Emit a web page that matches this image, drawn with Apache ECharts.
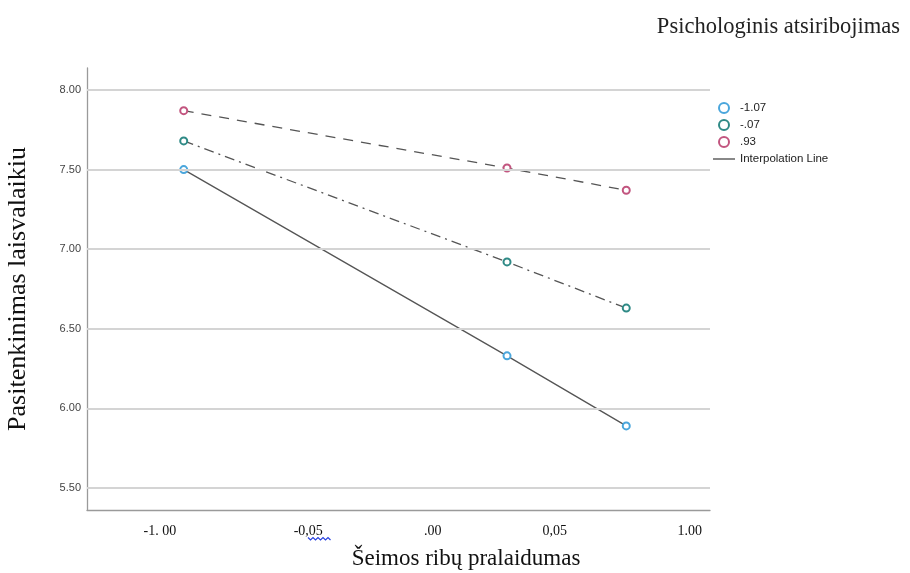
<!DOCTYPE html>
<html>
<head>
<meta charset="utf-8">
<title>Pasitenkinimas laisvalaikiu</title>
<script src="https://cdn.jsdelivr.net/npm/echarts@6/dist/echarts.min.js"></script>
<style>
  html, body { margin: 0; padding: 0; background: #fff; }
  #chart { width: 910px; height: 573px; }
</style>
</head>
<body>
<div id="chart"></div>
<script>
// Moderator levels (legend) and their line styles
const groupNames = ['-1.07', '-.07', '.93'];
const groupColors = ['#4aa6dc', '#2f8a86', '#c2557f'];
const groupLineTypes = ['solid', [10, 5, 2, 5], [10, 8]];

// Predictor positions along the horizontal axis
const xValues = [-0.91, 0.31, 0.76];

// Predicted outcome for each moderator level
const valuesLow = [7.50, 6.33, 5.89];
const valuesMid = [7.68, 6.92, 6.63];
const valuesHigh = [7.87, 7.51, 7.37];

// Axis ticks and their printed labels
const xTickValues = [-1.0, -0.44, 0.03, 0.49, 1.0];
const xTickLabels = ['-1. 00', '-0,05', '.00', '0,05', '1.00'];
const yTickValues = [5.5, 6.0, 6.5, 7.0, 7.5, 8.0];

const serif = "'Liberation Serif', 'Times New Roman', serif";
const sans = "'Liberation Sans', Arial, sans-serif";

const seriesValues = [valuesLow, valuesMid, valuesHigh];

const dataSeries = groupNames.map((name, i) => ({
  name: name,
  type: 'line',
  z: 3,
  data: xValues.map((x, j) => [x, seriesValues[i][j]]),
  symbol: 'emptyCircle',
  symbolSize: 7,
  itemStyle: { color: groupColors[i], borderWidth: 1.5 },
  lineStyle: { color: '#555', width: 1.3, type: groupLineTypes[i] },
  emphasis: { disabled: true }
}));

const chart = echarts.init(document.getElementById('chart'), null, { renderer: 'canvas' });

chart.setOption({
  animation: false,
  backgroundColor: '#ffffff',
  title: {
    text: 'Psichologinis atsiribojimas',
    right: 5,
    top: 11,
    textStyle: { fontFamily: serif, fontSize: 22.5, fontWeight: 'normal', color: '#222' }
  },
  legend: {
    orient: 'vertical',
    left: 708,
    top: 97,
    itemWidth: 22,
    itemHeight: 10,
    itemGap: 5,
    selectedMode: false,
    textStyle: { fontFamily: sans, fontSize: 11.5, color: '#222' },
    data: groupNames.map(n => ({ name: n, icon: 'emptyCircle' })).concat([
      { name: 'Interpolation Line', icon: 'path://M0,0H22V1.4H0Z', itemStyle: { color: '#555' } }
    ])
  },
  grid: { left: 87, right: 200, top: 68, bottom: 63, containLabel: false, outerBoundsMode: 'none' },
  xAxis: {
    type: 'value',
    min: -1.275,
    max: 1.076,
    name: 'Šeimos ribų pralaidumas',
    nameLocation: 'middle',
    nameGap: 37,
    nameTextStyle: { fontFamily: serif, fontSize: 23, color: '#111', padding: [0, 0, 0, 135] },
    axisLine: { show: true, onZero: false, lineStyle: { color: '#9a9a9a', width: 1.3 } },
    axisTick: { show: false },
    splitLine: { show: false },
    axisLabel: {
      customValues: xTickValues,
      margin: 14,
      fontFamily: serif,
      fontSize: 14,
      color: '#111',
      formatter: v => {
        const k = xTickValues.findIndex(t => Math.abs(t - v) < 1e-6);
        return k >= 0 ? xTickLabels[k] : '';
      }
    }
  },
  yAxis: {
    type: 'value',
    min: 5.362,
    max: 8.138,
    name: 'Pasitenkinimas laisvalaikiu',
    nameLocation: 'middle',
    nameGap: 56,
    nameTextStyle: { fontFamily: serif, fontSize: 26, color: '#111' },
    axisLine: { show: true, onZero: false, lineStyle: { color: '#9a9a9a', width: 1.3 } },
    axisTick: { show: false },
    splitLine: { show: false },
    axisLabel: {
      customValues: yTickValues,
      margin: 6,
      fontFamily: sans,
      fontSize: 11,
      color: '#444',
      formatter: v => v.toFixed(2)
    }
  },
  graphic: [{
    // spell-check style squiggle under the second tick label
    type: 'polyline',
    z: 10,
    shape: {
      points: [[308, 537.5], [310.5, 540], [313, 537.5], [315.5, 540], [318, 537.5], [320.5, 540], [323, 537.5], [325.5, 540], [328, 537.5], [330.5, 540]]
    },
    style: { stroke: '#2840e0', lineWidth: 1.2, fill: null }
  }],
  series: [
    {
      // horizontal reference lines at the labelled values
      name: 'grid',
      type: 'line',
      z: 1,
      data: [],
      silent: true,
      markLine: {
        silent: true,
        symbol: 'none',
        label: { show: false },
        lineStyle: { color: '#d4d4d4', width: 1.8, type: 'solid' },
        data: yTickValues.map(v => ({ yAxis: v }))
      }
    }
  ].concat(dataSeries).concat([{
    name: 'Interpolation Line',
    type: 'line',
    data: [],
    symbol: 'none',
    showSymbol: false,
    itemStyle: { color: '#555' },
    lineStyle: { color: '#555', width: 1.5 }
  }])
});
</script>
</body>
</html>
